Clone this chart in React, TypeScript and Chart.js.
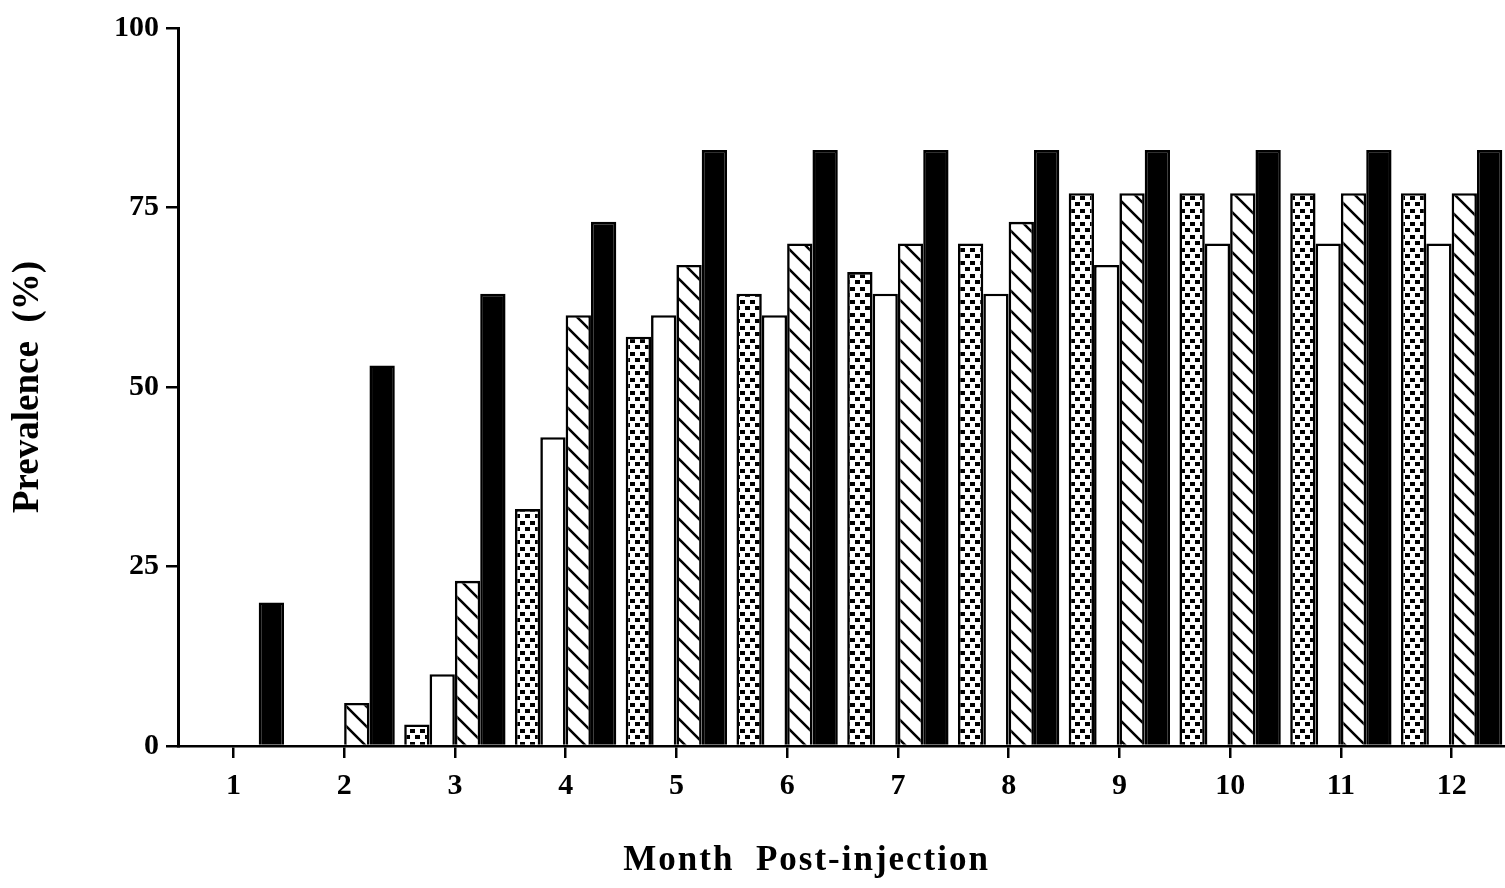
import React, { useEffect, useRef } from 'react';
import { Chart, registerables } from 'chart.js';

Chart.register(...registerables);

const months = ['1', '2', '3', '4', '5', '6', '7', '8', '9', '10', '11', '12'];
const dottedValues = [0, 0, 3, 33, 57, 63, 66, 70, 77, 77, 77, 77];
const openValues = [0, 0, 10, 43, 60, 60, 63, 63, 67, 70, 70, 70];
const hatchedValues = [0, 6, 23, 60, 67, 70, 70, 73, 77, 77, 77, 77];
const solidValues = [20, 53, 63, 73, 83, 83, 83, 83, 83, 83, 83, 83];
const yTickValues = [0, 25, 50, 75, 100];
const xTitle = 'Month  Post-injection';
const yTitle = 'Prevalence  (%)';

const FONT = "'Liberation Serif', 'Times New Roman', serif";

function makeHatch(): CanvasPattern | string {
  const s = 20;
  const c = document.createElement('canvas');
  c.width = s;
  c.height = s;
  const g = c.getContext('2d');
  if (!g) return '#fff';
  g.fillStyle = '#fff';
  g.fillRect(0, 0, s, s);
  g.strokeStyle = '#000';
  g.lineWidth = 2.6;
  g.beginPath();
  g.moveTo(-3, -3);
  g.lineTo(s + 3, s + 3);
  g.moveTo(-3, s - 3);
  g.lineTo(3, s + 3);
  g.moveTo(s - 3, -3);
  g.lineTo(s + 3, 3);
  g.stroke();
  return g.createPattern(c, 'repeat') || '#fff';
}

function makeDots(): CanvasPattern | string {
  const w = 10;
  const h = 13;
  const c = document.createElement('canvas');
  c.width = w;
  c.height = h;
  const g = c.getContext('2d');
  if (!g) return '#fff';
  g.fillStyle = '#fff';
  g.fillRect(0, 0, w, h);
  g.fillStyle = '#000';
  g.fillRect(0, 1, 5, 4);
  g.fillRect(5, 7, 5, 4);
  return g.createPattern(c, 'repeat') || '#fff';
}

export default function App() {
  const ref = useRef<HTMLCanvasElement | null>(null);

  useEffect(() => {
    if (!ref.current) return;
    const hatch = makeHatch();
    const dots = makeDots();

    const xTitlePlugin = {
      id: 'xTitlePlugin',
      afterDraw(chart: any) {
        const { ctx, chartArea } = chart;
        ctx.save();
        ctx.fillStyle = '#000';
        ctx.font = `bold 35px ${FONT}`;
        try { (ctx as any).letterSpacing = '2px'; } catch (e) {}
        ctx.textAlign = 'center';
        ctx.textBaseline = 'middle';
        const x = chartArea.left + 0.473 * (chartArea.right - chartArea.left);
        ctx.fillText(xTitle, x, 861);
        ctx.restore();
      },
    };

    const common = { borderColor: '#000', borderWidth: 2.6, categoryPercentage: 0.915, barPercentage: 1.0 };

    const chart = new Chart(ref.current, {
      type: 'bar',
      data: {
        labels: months,
        datasets: [
          { label: 'dotted', data: dottedValues, backgroundColor: dots as any, ...common },
          { label: 'open', data: openValues, backgroundColor: '#fff', ...common },
          { label: 'hatched', data: hatchedValues, backgroundColor: hatch as any, ...common },
          { label: 'solid', data: solidValues, backgroundColor: '#000', ...common },
        ],
      },
      options: {
        responsive: false,
        animation: false,
        layout: { padding: { top: 28, right: 5, left: 0, bottom: 0 } },
        plugins: { legend: { display: false }, tooltip: { enabled: false }, title: { display: false } },
        scales: {
          x: {
            offset: true,
            grid: { display: true, drawOnChartArea: false, drawTicks: true, tickLength: 12, offset: false, color: '#000', lineWidth: 2.5 },
            border: { display: true, color: '#000', width: 2.5 },
            ticks: { color: '#000', font: { family: FONT, size: 30, weight: 'bold' }, padding: 10, maxRotation: 0, autoSkip: false },
            afterFit: (s: any) => { s.height = 142; },
          },
          y: {
            min: 0,
            max: 100,
            grid: { display: true, drawOnChartArea: false, drawTicks: true, tickLength: 12, color: '#000', lineWidth: 2.5 },
            border: { display: true, color: '#000', width: 3 },
            ticks: { color: '#000', font: { family: FONT, size: 30, weight: 'bold' }, padding: 7 },
            afterBuildTicks: (s: any) => { s.ticks = yTickValues.map((v) => ({ value: v })); },
            title: { display: true, text: yTitle, color: '#000', font: { family: FONT, size: 37, weight: 'bold' }, padding: { top: 6, bottom: 0 } },
            afterFit: (s: any) => { s.width = 178; },
          },
        },
      },
      plugins: [xTitlePlugin],
    });
    return () => chart.destroy();
  }, []);

  return (
    <div style={{ position: 'fixed', left: 0, top: 0, width: 1505, height: 888, overflow: 'hidden', background: '#fff' }}>
      <canvas ref={ref} width={1512} height={888} style={{ width: 1512, height: 888, display: 'block' }} />
    </div>
  );
}
